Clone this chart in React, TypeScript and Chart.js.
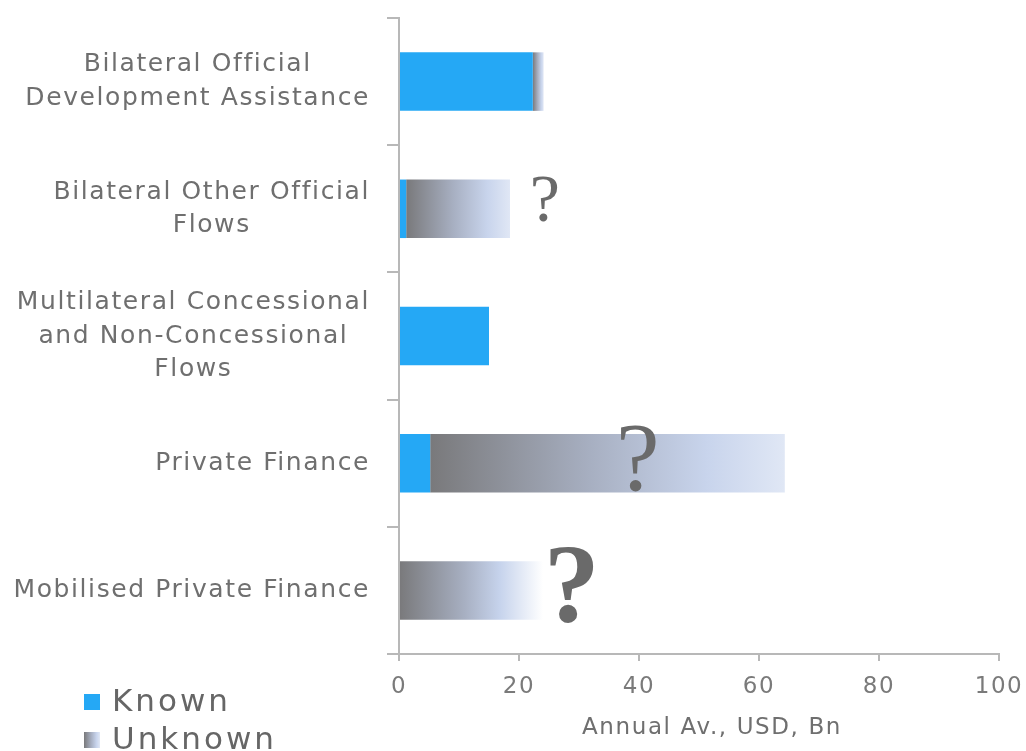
import React, { useEffect, useRef } from 'react';
import { Chart, registerables } from 'chart.js';

Chart.register(...registerables);

// ---------- data ----------
const categories: string[][] = [
  ['Bilateral Official', 'Development Assistance'],
  ['Bilateral Other Official', 'Flows'],
  ['Multilateral Concessional', 'and Non-Concessional', 'Flows'],
  ['Private Finance'],
  ['Mobilised Private Finance'],
];
const knownValues = [22.3, 1.2, 15.0, 5.2, 0];
const unknownValues = [1.8, 17.3, 0, 59.1, 24.0];
const xTickValues = [0, 20, 40, 60, 80, 100];
const seriesLabels = ['Known', 'Unknown'];
const axisTitle = 'Annual Av., USD, Bn';
// "?" annotation positions in data units (x value per category; null = none)
const questionMarkValues: (number | null)[] = [null, 24.3, null, 39.8, 28.8];

// ---------- styles ----------
const KNOWN_COLOR = '#25a8f5';
const TEXT_COLOR = '#6f6f6f';
const TICK_COLOR = '#7a7a7a';
const AXIS_COLOR = '#b8b8b8';
const SANS = '"DejaVu Sans", sans-serif';
const qmStyles: ({ size: number; weight: string; dy: number } | null)[] = [
  null,
  { size: 68, weight: 'normal', dy: -11 },
  null,
  { size: 98, weight: 'normal', dy: -6 },
  { size: 112, weight: 'bold', dy: -7 },
];
// whether the unknown bar fades out to white at its end
const fadeToWhite = [false, false, false, false, true];

function unknownGradient(ctx: CanvasRenderingContext2D, x0: number, x1: number, fade = false) {
  const g = ctx.createLinearGradient(x0, 0, x1, 0);
  g.addColorStop(0, '#79797b');
  g.addColorStop(0.45, '#a7afc1');
  if (fade) {
    g.addColorStop(0.7, '#c6d3ec');
    g.addColorStop(1, '#ffffff');
  } else {
    g.addColorStop(0.78, '#c8d4ec');
    g.addColorStop(1, '#e0e7f5');
  }
  return g;
}

const customPlugin = {
  id: 'customDraw',
  beforeUpdate(chart: any) {
    chart.ctx.letterSpacing = '1.6px';
  },
  beforeDraw(chart: any) {
    chart.ctx.letterSpacing = '1.6px';
  },
  afterDraw(chart: any) {
    const ctx: CanvasRenderingContext2D = chart.ctx;
    const ys = chart.scales.y;
    const xs = chart.scales.x;
    const area = chart.chartArea;

    // category labels: block right-aligned, lines centred inside block
    ctx.save();
    (ctx as any).letterSpacing = '1.6px';
    ctx.font = `25px ${SANS}`;
    ctx.fillStyle = TEXT_COLOR;
    ctx.textBaseline = 'middle';
    ctx.textAlign = 'center';
    const right = area.left - 29;
    const lh = 33.5;
    categories.forEach((lines, i) => {
      const cy = ys.getPixelForTick(i);
      const w = Math.max(...lines.map((l) => ctx.measureText(l).width));
      const cx = right - w / 2;
      lines.forEach((l, j) => {
        ctx.fillText(l, cx, cy + (j - (lines.length - 1) / 2) * lh);
      });
    });

    // axis title
    ctx.font = `23px ${SANS}`;
    ctx.fillStyle = TEXT_COLOR;
    ctx.fillText(axisTitle, (area.left + area.right) / 2 + 13, 728);

    // question marks
    ctx.fillStyle = '#6a6a6a';
    ctx.textAlign = 'center';
    ctx.textBaseline = 'alphabetic';
    (ctx as any).letterSpacing = '0px';
    questionMarkValues.forEach((v, i) => {
      const st = qmStyles[i];
      if (v == null || !st) return;
      ctx.font = `${st.weight} ${st.size}px "Liberation Serif", serif`;
      const px = xs.getPixelForValue(v);
      const glyphCenter = ys.getPixelForTick(i) + st.dy;
      const baseline = glyphCenter + st.size * 0.335;
      ctx.fillText('?', px, baseline);
    });

    // legend
    const lx = 84;
    const box = 16;
    const rows = [694, 732];
    ctx.font = `31px ${SANS}`;
    (ctx as any).letterSpacing = '3px';
    ctx.textAlign = 'left';
    ctx.textBaseline = 'alphabetic';
    seriesLabels.forEach((label, k) => {
      const top = rows[k];
      if (k === 0) {
        ctx.fillStyle = KNOWN_COLOR;
      } else {
        ctx.fillStyle = unknownGradient(ctx, lx, lx + box);
      }
      ctx.fillRect(lx, top, box, box);
      ctx.fillStyle = '#666666';
      ctx.fillText(label, lx + box + 12, top + box + 1);
    });
    ctx.restore();
  },
};

export default function App() {
  const canvasRef = useRef<HTMLCanvasElement | null>(null);

  useEffect(() => {
    if (!canvasRef.current) return;
    const chart = new Chart(canvasRef.current, {
      type: 'bar',
      data: {
        labels: categories.map((c) => c.join(' ')),
        datasets: [
          {
            label: seriesLabels[0],
            data: knownValues,
            backgroundColor: KNOWN_COLOR,
            borderWidth: 0,
            barPercentage: 0.46,
            categoryPercentage: 1,
          },
          {
            label: seriesLabels[1],
            data: unknownValues,
            backgroundColor: (c: any) => {
              const chart = c.chart;
              const xs = chart.scales && chart.scales.x;
              const i = c.dataIndex;
              if (!xs || i == null) return '#a7afc1';
              const x0 = xs.getPixelForValue(knownValues[i]);
              const x1 = xs.getPixelForValue(knownValues[i] + unknownValues[i]);
              if (!isFinite(x0) || !isFinite(x1) || x1 - x0 < 1) return '#a7afc1';
              return unknownGradient(chart.ctx, x0, x1, fadeToWhite[i]);
            },
            borderWidth: 0,
            barPercentage: 0.46,
            categoryPercentage: 1,
          },
        ],
      },
      options: {
        indexAxis: 'y',
        animation: false,
        responsive: true,
        maintainAspectRatio: false,
        layout: { padding: { top: 18, right: 27, left: 0, bottom: 0 } },
        plugins: {
          legend: { display: false },
          tooltip: { enabled: false },
        },
        scales: {
          x: {
            type: 'linear',
            stacked: true,
            min: 0,
            max: 100,
            afterBuildTicks: (s: any) => {
              s.ticks = xTickValues.map((v) => ({ value: v }));
            },
            afterFit: (s: any) => {
              s.height = 97;
              s.paddingRight = 0;
              s.paddingLeft = 0;
            },
            grid: {
              drawOnChartArea: false,
              drawTicks: true,
              tickLength: 7,
              color: AXIS_COLOR,
              lineWidth: 2,
            },
            border: { display: true, color: AXIS_COLOR, width: 2 },
            ticks: {
              color: TICK_COLOR,
              font: { family: SANS, size: 23 },
              padding: 12,
              maxRotation: 0,
            },
          },
          y: {
            type: 'category',
            stacked: true,
            afterFit: (s: any) => {
              s.width = 399;
              s.paddingTop = 0;
              s.paddingBottom = 0;
            },
            grid: {
              offset: true,
              drawOnChartArea: false,
              drawTicks: true,
              tickLength: 12,
              color: AXIS_COLOR,
              lineWidth: 2,
            },
            border: { display: true, color: AXIS_COLOR, width: 2 },
            ticks: { display: false },
          },
        },
      },
      plugins: [customPlugin],
    } as any);
    return () => chart.destroy();
  }, []);

  return (
    <div style={{ position: 'absolute', left: 0, top: 0, width: 1026, height: 751, background: '#ffffff' }}>
      <canvas ref={canvasRef} />
    </div>
  );
}
